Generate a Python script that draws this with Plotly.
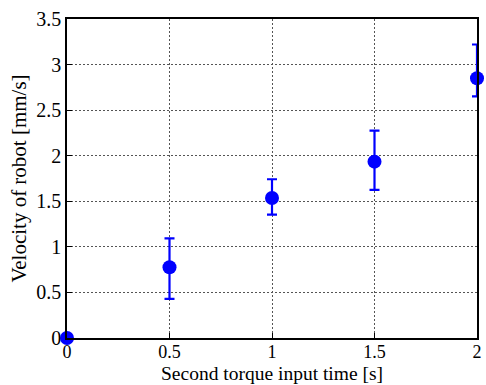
import plotly.graph_objects as go

x_vals = [0, 0.5, 1.0, 1.5, 2.0]
y_vals = [0.0, 0.776, 1.536, 1.935, 2.85]
err_plus = [0.0, 0.318, 0.206, 0.341, 0.37]
err_minus = [0.0, 0.346, 0.183, 0.31, 0.2]

x_ticks = [0, 0.5, 1, 1.5, 2]
x_ticktext = ["0", "0.5", "1", "1.5", "2"]
y_ticks = [0, 0.5, 1, 1.5, 2, 2.5, 3, 3.5]
y_ticktext = ["0", "0.5", "1", "1.5", "2", "2.5", "3", "3.5"]
x_title = "Second torque input time [s]"
y_title = "Velocity of robot [mm/s]"

fig = go.Figure()
fig.add_trace(go.Scatter(
    x=x_vals, y=y_vals, mode="markers",
    marker=dict(color="#0000FF", size=14, line=dict(width=0)),
    error_y=dict(type="data", symmetric=False, array=err_plus, arrayminus=err_minus,
                 color="#0000FF", thickness=2.2, width=5),
    cliponaxis=False, showlegend=False,
))

font = "Liberation Serif, Times New Roman, serif"
fig.update_layout(
    width=486, height=385,
    margin=dict(l=67, r=4, t=19, b=47),
    paper_bgcolor="white", plot_bgcolor="white",
    font=dict(family=font, size=20, color="black"),
    xaxis=dict(range=[0, 2], tickvals=x_ticks, ticktext=x_ticktext,
               showgrid=True, gridcolor="#555", griddash="2px,2px", gridwidth=1,
               zeroline=False, showline=True, linecolor="black", linewidth=1.5,
               mirror=True, ticks="inside", ticklen=5, tickcolor="black",
               ticklabelstandoff=-3,
               tickfont=dict(size=18)),
    yaxis=dict(range=[0, 3.5], tickvals=y_ticks, ticktext=y_ticktext,
               showgrid=True, gridcolor="#555", griddash="2px,2px", gridwidth=1,
               zeroline=False, showline=True, linecolor="black", linewidth=1.5,
               mirror=True, ticks="inside", ticklen=5, tickcolor="black",
               title=dict(text=y_title, font=dict(size=21), standoff=4),
               tickfont=dict(size=20)),
    annotations=[dict(text=x_title, xref="paper", yref="paper", x=0.5, y=0,
                      yshift=-35, yanchor="middle", xanchor="center", showarrow=False,
                      font=dict(size=19.5))],
)
fig.write_html("out.html")
